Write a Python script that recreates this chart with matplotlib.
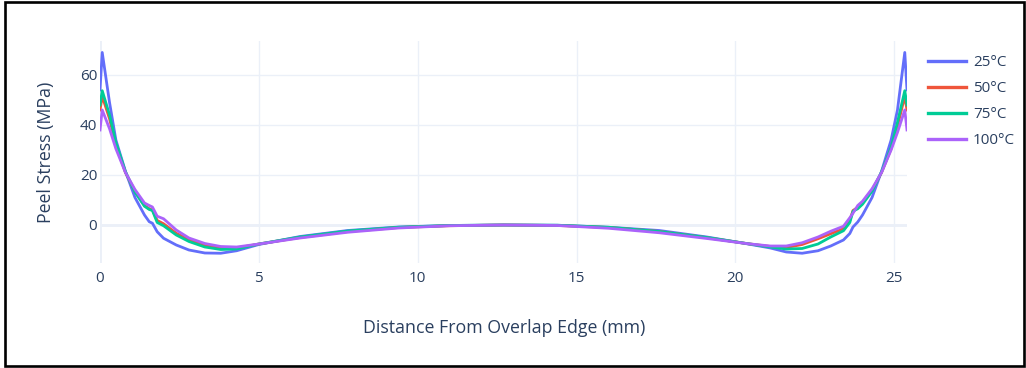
import matplotlib
matplotlib.use("Agg")
import matplotlib.pyplot as plt
from matplotlib.patches import Rectangle

plt.rcParams["font.family"] = ["Open Sans", "DejaVu Sans"]

# Distance along the overlap (mm)
distance = [0.0, 0.07, 0.3, 0.5, 0.8, 1.1, 1.4, 1.55, 1.65, 1.8, 2.0, 2.4, 2.8,
            3.3, 3.8, 4.3, 5.0, 6.3, 7.8, 9.4, 11.0, 12.7, 14.4, 16.0, 17.6,
            19.1, 20.4, 21.1, 21.6, 22.1, 22.6, 23.0, 23.4, 23.6, 23.7, 23.85,
            24.0, 24.3, 24.6, 24.9, 25.1, 25.33, 25.4]

# Peel stress (MPa) at each temperature
stress_25 = [54, 69, 49, 34, 21.5, 11, 4, 1.3, 0.7, -2.7, -5.3, -8, -10,
             -11.2, -11.3, -10.3, -7.8, -4.6, -2.2, -0.8, -0.2, 0, -0.1, -0.9, -2.2,
             -4.8, -7.6, -9.2, -10.8, -11.3, -10.3, -8.4, -6, -3.4, -0.8, 1.2,
             4, 11, 21.5, 34, 46, 69, 54]
stress_50 = [46, 51.5, 42.5, 32, 21, 13.5, 7.8, 6.5, 6, 1.8, 0.5, -3.3, -6,
             -8.2, -9.2, -9.2, -7.6, -5, -2.6, -1.0, -0.3, 0, -0.2, -1.0, -2.6,
             -5.1, -7.5, -8.6, -9.0, -7.8, -5.5, -3.5, -1.5, 1.8, 5.8, 7,
             9, 14, 21, 30.5, 39.5, 51.5, 46]
stress_75 = [48, 53.7, 44, 33, 21.3, 13.2, 7.5, 6.2, 5.8, 1, -0.3, -4, -6.6,
             -8.8, -9.8, -9.6, -7.6, -4.8, -2.4, -0.9, -0.2, 0, -0.1, -0.9, -2.6,
             -5.0, -7.5, -8.8, -9.6, -9.4, -7.6, -4.8, -2.3, 1.0, 5.5, 6.5,
             8.3, 13.5, 21.3, 31, 41, 53.7, 48]
stress_100 = [38, 46, 38.5, 30.5, 21, 14.2, 8.8, 7.8, 7.2, 3.5, 2.5, -2, -5.2,
              -7.4, -8.6, -8.8, -7.6, -5.2, -2.9, -1.2, -0.3, 0, -0.2, -1.3, -3.1,
              -5.4, -7.5, -8.4, -8.4, -7.1, -4.8, -2.5, -0.5, 2.9, 4.7, 7.8,
              9.5, 14.5, 21, 30, 37, 46, 38]

series = [("25°C", stress_25, "#636efa"),
          ("50°C", stress_50, "#EF553B"),
          ("75°C", stress_75, "#00cc96"),
          ("100°C", stress_100, "#ab63fa")]

x_ticks = [0, 5, 10, 15, 20, 25]
y_ticks = [0, 20, 40, 60]

W, H = 1026, 368
fig = plt.figure(figsize=(W / 100, H / 100), dpi=100)
ax = fig.add_axes([100 / W, 1 - 263 / H, 807 / W, 222.3 / H])

grid_color = "#EBF0F8"
text_color = "#2a3f5f"

for label, values, color in series:
    ax.plot(distance, values, color=color, lw=2.0, label=label,
            solid_joinstyle="round", zorder=3)

ax.set_xlim(0, 25.4)
ax.set_ylim(-15.2, 73.7)
ax.set_xticks(x_ticks)
ax.set_yticks(y_ticks)
ax.grid(True, color=grid_color, lw=1.0, zorder=0)
ax.axhline(0, color=grid_color, lw=2.0, zorder=1)
ax.axvline(0, color=grid_color, lw=2.0, zorder=1)
for s in ax.spines.values():
    s.set_visible(False)
ax.tick_params(length=0, labelsize=11, labelcolor=text_color)
ax.tick_params(axis="x", pad=6)
ax.tick_params(axis="y", pad=2)

fig.text(504 / W, 1 - 328 / H, "Distance From Overlap Edge (mm)",
         ha="center", va="center", fontsize=12.8, color=text_color)
fig.text(46 / W, 1 - 152 / H, "Peel Stress (MPa)", rotation=90,
         ha="center", va="center", fontsize=12.8, color=text_color)

leg = ax.legend(loc="upper left", bbox_to_anchor=(928 / W, 1 - 55.5 / H),
                bbox_transform=fig.transFigure, frameon=False, fontsize=11,
                handlelength=2.5, handletextpad=0.45, labelspacing=0.71,
                borderpad=0, borderaxespad=0)
for t in leg.get_texts():
    t.set_color(text_color)
for line in leg.get_lines():
    line.set_linewidth(2.4)

# Frame round the whole figure
fig.patches.append(Rectangle((5 / W, 2 / H), 1018.5 / W, 364 / H,
                             transform=fig.transFigure, fill=False,
                             edgecolor="black", lw=1.9))

fig.savefig("out.png", dpi=100, facecolor="white")
